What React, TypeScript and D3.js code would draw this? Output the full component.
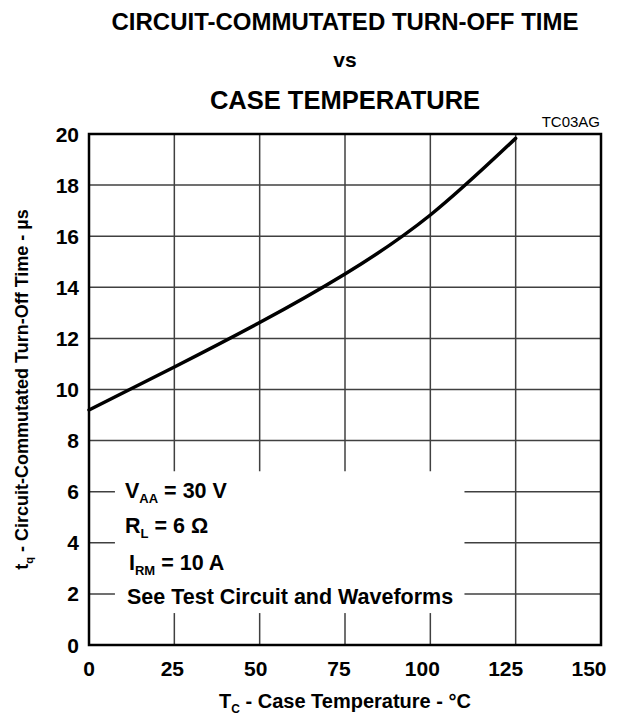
import React from 'react';
import { scaleLinear, line, curveNatural } from 'd3';

// curve at the grid columns
const caseTemp = [0, 25, 50, 75, 100, 125];
const turnOff = [9.2, 10.88, 12.62, 14.52, 16.83, 19.83];

const xTicks = [0, 25, 50, 75, 100, 125, 150];
const yTicks = [0, 2, 4, 6, 8, 10, 12, 14, 16, 18, 20];

const width = 621;
const height = 719;
const margin = { top: 134, right: 20, bottom: 74, left: 89 };
const font = '"Liberation Sans", Arial, Helvetica, sans-serif';

const App = () => {
  const innerWidth = width - margin.left - margin.right;
  const innerHeight = height - margin.top - margin.bottom;

  const xScale = scaleLinear().domain([0, 150]).range([0, innerWidth]);
  const yScale = scaleLinear().domain([0, 20]).range([innerHeight, 0]);
  // the tick labels in the original sit a little left of their grid lines
  const xLabel = scaleLinear().domain([0, 150]).range([0, innerWidth - 12]);

  const pts: [number, number][] = caseTemp.map((t, i) => [t, turnOff[i]]);
  const path = line<[number, number]>()
    .x(d => xScale(d[0]))
    .y(d => yScale(d[1]))
    .curve(curveNatural)(pts);

  // white box behind the test conditions
  const box = { x: xScale(7.6), y: yScale(6.8), w: xScale(110) - xScale(7.6), h: yScale(1.25) - yScale(6.8) };

  return (
    <svg
      width={width}
      height={height}
      style={{ position: 'absolute', left: 0, top: 0, background: '#fff' }}
      fontFamily={font}
      fontWeight="bold"
    >
      {/* titles */}
      <text x={345} y={30} textAnchor="middle" fontSize={24}>CIRCUIT-COMMUTATED TURN-OFF TIME</text>
      <text x={345} y={67} textAnchor="middle" fontSize={21}>vs</text>
      <text x={345} y={109} textAnchor="middle" fontSize={25.5}>CASE TEMPERATURE</text>
      <text x={600} y={127} textAnchor="end" fontSize={15} fontWeight="normal">TC03AG</text>

      <g transform={`translate(${margin.left}, ${margin.top})`}>
        {/* grid */}
        {xTicks.map(t => (
          <line key={'gx' + t} x1={xScale(t)} x2={xScale(t)} y1={0} y2={innerHeight} stroke="#404040" strokeWidth={1.5} />
        ))}
        {yTicks.map(t => (
          <line key={'gy' + t} x1={0} x2={innerWidth} y1={yScale(t)} y2={yScale(t)} stroke="#404040" strokeWidth={1.5} />
        ))}

        <rect x={box.x} y={box.y} width={box.w} height={box.h} fill="#fff" />

        <rect x={0} y={0} width={innerWidth} height={innerHeight} fill="none" stroke="#000" strokeWidth={2.5} />

        <path d={path || ''} fill="none" stroke="#000" strokeWidth={3.5} strokeLinecap="round" />

        {/* y tick labels */}
        {yTicks.map(t => (
          <text key={'ly' + t} x={-10} y={yScale(t)} dy="0.36em" textAnchor="end" fontSize={21}>{t}</text>
        ))}
        {/* x tick labels */}
        {xTicks.map(t => (
          <text key={'lx' + t} x={xLabel(t)} y={innerHeight + 31} textAnchor="middle" fontSize={21}>{t}</text>
        ))}

        {/* conditions */}
        <g fontSize={21.5}>
          <text x={36} y={364}>V<tspan fontSize={13} dy={5}>AA</tspan><tspan dy={-5}> = 30 V</tspan></text>
          <text x={36} y={399}>R<tspan fontSize={13} dy={5}>L</tspan><tspan dy={-5}> = 6 Ω</tspan></text>
          <text x={40} y={436}>I<tspan fontSize={13} dy={5}>RM</tspan><tspan dy={-5}> = 10 A</tspan></text>
          <text x={38} y={470}>See Test Circuit and Waveforms</text>
        </g>
      </g>

      {/* axis titles */}
      <text x={345} y={708} textAnchor="middle" fontSize={20}>
        T<tspan fontSize={12} dy={5}>C</tspan><tspan dy={-5}> - Case Temperature - °C</tspan>
      </text>
      <text transform={`translate(28, ${margin.top + innerHeight / 2}) rotate(-90)`} textAnchor="middle" fontSize={18}>
        t<tspan fontSize={11} dy={5}>q</tspan><tspan dy={-5}> - Circuit-Commutated Turn-Off Time - µs</tspan>
      </text>
    </svg>
  );
};

export default App;
